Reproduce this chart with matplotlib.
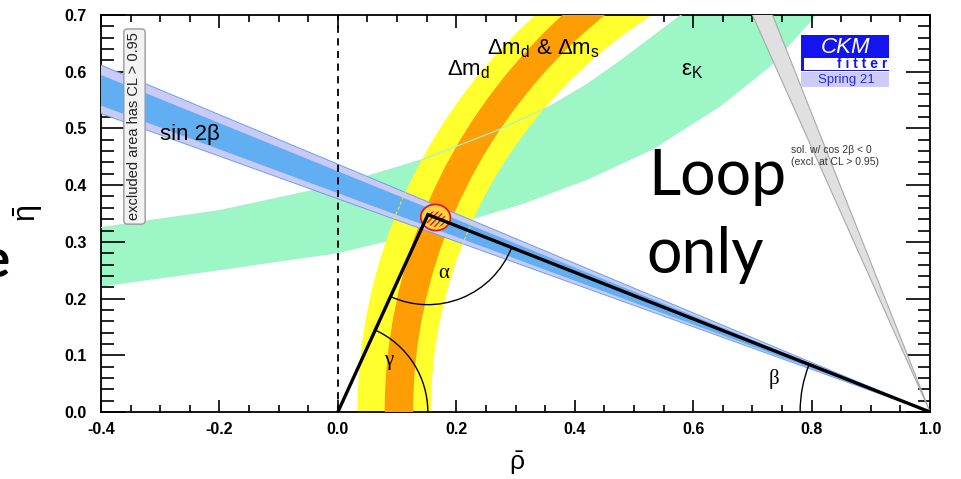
import matplotlib
matplotlib.use("Agg")
import matplotlib.pyplot as plt
from matplotlib.patches import Wedge, Ellipse, Arc, Rectangle
from matplotlib.ticker import MultipleLocator, FormatStrFormatter
import numpy as np

plt.rcParams['font.family'] = ['Liberation Sans', 'DejaVu Sans']
plt.rcParams['axes.unicode_minus'] = False
plt.rcParams['mathtext.fontset'] = 'custom'
plt.rcParams['mathtext.rm'] = 'Liberation Sans'
plt.rcParams['mathtext.it'] = 'Liberation Sans:italic'
plt.rcParams['mathtext.bf'] = 'Liberation Sans:bold'

# apex of the unitarity triangle (other corners are (0,0) and (1,0))
rho_apex = 0.152
eta_apex = 0.348

# sin 2beta : angle beta of the band seen from (1,0), degrees
beta_95 = [20.6, 23.6]
beta_68 = [21.1, 23.0]
# second solution, cos 2beta < 0
beta_alt = [66.8, 69.2]

# dm_d and dm_d & dm_s : circles around a point on the rho axis
dmd_centre = 1.0
dmd_radii = [0.843, 0.967]
dms_centre = 1.045
dms_radii = [0.918, 0.966]

# eps_K band edges
epsk_up_rho = [-0.42, -0.2, 0.0, 0.14, 0.27, 0.36, 0.42, 0.48, 0.58, 0.62]
epsk_up_eta = [0.322, 0.355, 0.400, 0.444, 0.497, 0.540, 0.577, 0.621, 0.700, 0.735]
epsk_lo_rho = [-0.42, -0.2, 0.0, 0.14, 0.24, 0.31, 0.42, 0.53, 0.645, 0.73, 0.80, 0.83]
epsk_lo_eta = [0.218, 0.250, 0.280, 0.315, 0.344, 0.366, 0.409, 0.462, 0.538, 0.609, 0.690, 0.73]

# global fit region
fit_rho, fit_eta = 0.165, 0.343
fit_w, fit_h = 0.050, 0.046

fig = plt.figure(figsize=(9.61, 4.79), dpi=100)
ax = fig.add_axes([0.1051, 0.1399, 0.8627, 0.8288])
ax.set_xlim(-0.4, 1.0)
ax.set_ylim(0.0, 0.7)

# eps_K
poly_rho = epsk_up_rho + epsk_lo_rho[::-1]
poly_eta = epsk_up_eta + epsk_lo_eta[::-1]
ax.fill(poly_rho, poly_eta, color='#9cf6c6', lw=0, zorder=1)

# dm_d, dm_d & dm_s
yel = Wedge((dmd_centre, 0), dmd_radii[1], 0, 180, width=dmd_radii[1] - dmd_radii[0],
            facecolor='#ffff2e', edgecolor='none', zorder=2)
ax.add_patch(yel)
ora = Wedge((dms_centre, 0), dms_radii[1], 0, 180, width=dms_radii[1] - dms_radii[0],
            facecolor='#ff9d05', edgecolor='none', zorder=3)
ax.add_patch(ora)
ax.plot(epsk_up_rho, epsk_up_eta, color='#a8f0c6', lw=0.9, zorder=3.5)

# cos 2beta < 0 solution
grey = Wedge((1, 0), 2, 180 - beta_alt[1], 180 - beta_alt[0],
             facecolor='#e0e0e0', edgecolor='#a8a8a8', lw=0.8, zorder=4)
ax.add_patch(grey)

# sin 2beta
b95 = Wedge((1, 0), 2, 180 - beta_95[1], 180 - beta_95[0],
            facecolor='#c9cbf6', edgecolor='#6aa0ea', lw=0.7, zorder=5)
ax.add_patch(b95)
b68 = Wedge((1, 0), 2, 180 - beta_68[1], 180 - beta_68[0],
            facecolor='#62aef2', edgecolor='none', zorder=6)
ax.add_patch(b68)
# dm_d edges seen through the sin 2beta band
for c, r in [(dmd_centre, dmd_radii[0]), (dmd_centre, dmd_radii[1])]:
    a = Arc((c, 0), 2 * r, 2 * r, theta1=0, theta2=180, color='#e8e840',
            lw=0.8, ls=(0, (3, 2)), zorder=6.5)
    ax.add_patch(a)
    a.set_clip_path(b95)

ax.axvline(0.0, color='black', lw=1.3, ls=(0, (4, 3)), zorder=7)

# global fit
ax.add_patch(Ellipse((fit_rho, fit_eta), fit_w, fit_h, angle=-8,
                     facecolor='#ffd640', edgecolor='#e8141e', lw=1.3, zorder=8))
ax.add_patch(Ellipse((fit_rho, fit_eta - 0.003), fit_w * 0.7, fit_h * 0.6, angle=-8,
                     facecolor='none', edgecolor='#e8141e', hatch='//////', lw=0, zorder=8.5))

# triangle
ax.plot([0, rho_apex, 1], [0, eta_apex, 0], color='black', lw=2.4,
        solid_joinstyle='miter', zorder=9)

# angle arcs, ~90 px radius at apex and origin, 130 px at (1,0)
sx, sy = 1 / 592.5, 1 / 567.0
ang_o = np.degrees(np.arctan2(eta_apex, rho_apex))
ang_1 = np.degrees(np.arctan2(eta_apex, 1 - rho_apex))
ax.add_patch(Arc((rho_apex, eta_apex), 180 * sx, 180 * sy,
                 theta1=180 + ang_o, theta2=360 - ang_1, color='black', lw=1.0, zorder=9))
ax.add_patch(Arc((0, 0), 180 * sx, 180 * sy, theta1=0, theta2=ang_o,
                 color='black', lw=1.0, zorder=9))
ax.add_patch(Arc((1, 0), 260 * sx, 260 * sy, theta1=180 - ang_1, theta2=180,
                 color='black', lw=1.0, zorder=9))
serif = ['Liberation Serif', 'DejaVu Serif']
ax.text(0.178, 0.245, 'α', family=serif, fontsize=15, ha='center', va='center', zorder=10)
ax.text(0.085, 0.09, 'γ', family=serif, fontsize=15, ha='center', va='center', zorder=10)
ax.text(0.737, 0.059, 'β', family=serif, fontsize=15, ha='center', va='center', zorder=10)

# labels
ax.text(-0.25, 0.49, 'sin 2β', fontsize=16, ha='center', va='center', zorder=10)
ax.text(0.184, 0.593, r'$\mathrm{\Delta m_d}$', fontsize=16, ha='left', va='baseline', zorder=10)
ax.text(0.251, 0.63, r'$\mathrm{\Delta m_d\ &\ \Delta m_s}$', fontsize=16, ha='left',
        va='baseline', zorder=10)
ax.text(0.58, 0.594, r'$\mathrm{\varepsilon_K}$', fontsize=16, ha='left', va='baseline', zorder=10)

ax.text(0.0404, 0.719, 'excluded area has CL > 0.95', transform=ax.transAxes,
        rotation=90, fontsize=10.5, ha='center', va='center', color='#222222', zorder=10,
        bbox=dict(boxstyle='round,pad=0.25', fc='#f2f2f2', ec='#9a9a9a', lw=1))

ax.text(0.832, 0.673, 'sol. w/ cos 2β < 0\n(excl. at CL > 0.95)', transform=ax.transAxes,
        fontsize=7.5, ha='left', va='top', color='#333333', linespacing=1.25, zorder=10)

# CKMfitter logo
ax.add_patch(Rectangle((0.8444, 0.859), 0.1061, 0.0906, transform=ax.transAxes,
                       facecolor='#1414ee', edgecolor='none', zorder=10))
ax.add_patch(Rectangle((0.848, 0.8625), 0.1025, 0.0292, transform=ax.transAxes,
                       facecolor='white', edgecolor='none', zorder=10.5))
ax.add_patch(Rectangle((0.8444, 0.8176), 0.1061, 0.0378, transform=ax.transAxes,
                       facecolor='#ccccf6', edgecolor='none', zorder=10))
ax.text(0.8975, 0.904, 'CKM', transform=ax.transAxes, fontsize=16, style='italic',
        color='white', ha='center', va='baseline', zorder=11)
ax.text(0.949, 0.867, 'f i t t e r', transform=ax.transAxes, fontsize=10, weight='bold',
        color='#1414ee', ha='right', va='baseline', zorder=11)
ax.text(0.899, 0.836, 'Spring 21', transform=ax.transAxes, fontsize=9.5,
        color='#2a2ae0', ha='center', va='center', zorder=11)

# slide text overlaid on the plot
sans = ['Lato', 'DejaVu Sans']
ax.text(0.66, 0.547, 'Loop', transform=ax.transAxes, family=sans, fontsize=45,
        ha='left', va='baseline', zorder=12)
ax.text(0.658, 0.350, 'only', transform=ax.transAxes, family=sans, fontsize=45,
        ha='left', va='baseline', zorder=12)
fig.text(9 / 961, 0.422, 'e', family=sans, fontsize=38, weight='bold',
         ha='right', va='baseline')

# axes
ax.xaxis.set_major_locator(MultipleLocator(0.2))
ax.xaxis.set_minor_locator(MultipleLocator(0.05))
ax.yaxis.set_major_locator(MultipleLocator(0.1))
ax.yaxis.set_minor_locator(MultipleLocator(0.02))
ax.xaxis.set_major_formatter(FormatStrFormatter('%.1f'))
ax.yaxis.set_major_formatter(FormatStrFormatter('%.1f'))
ax.tick_params(which='both', direction='in', top=True, right=True, width=1.2, colors='black')
ax.tick_params(axis='x', which='major', length=9, pad=7, labelsize=11.5)
ax.tick_params(axis='x', which='minor', length=5)
ax.tick_params(axis='y', which='major', length=17, pad=10, labelsize=11.5)
ax.tick_params(axis='y', which='minor', length=9)
for lab in ax.get_xticklabels() + ax.get_yticklabels():
    lab.set_fontweight('bold')
for sp in ax.spines.values():
    sp.set_linewidth(1.3)

ax.set_xlabel(r'$\bar{\mathrm{\rho}}$', fontsize=19)
ax.xaxis.set_label_coords(0.502, -0.093)
ax.set_ylabel(r'$\bar{\mathrm{\eta}}$', fontsize=22)
ax.yaxis.set_label_coords(-0.068, 0.50)

fig.savefig('out.png', dpi=100)
